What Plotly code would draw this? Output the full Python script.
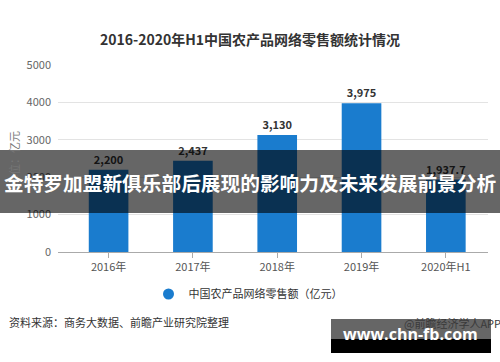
import plotly.graph_objects as go

categories = ["2016年", "2017年", "2018年", "2019年", "2020年H1"]
values = [2200, 2437, 3130, 3975, 1937.7]
value_labels = [f"{v:,}" for v in values]
y_ticks = [0, 1000, 2000, 3000, 4000, 5000]

title_text = "2016-2020年H1中国农产品网络零售额统计情况"
legend_name = "中国农产品网络零售额（亿元）"
y_title = "单位：亿元"
source_text = "资料来源：商务大数据、前瞻产业研究院整理"
brand_text = "@前瞻经济学人APP"
banner_text = "金特罗加盟新俱乐部后展现的影响力及未来发展前景分析"
site_text = "www.chn-fb.com"

FONT = "Noto Sans CJK SC, Microsoft YaHei, sans-serif"
BLUE = "#1a7cce"

W, H = 500, 362
L, R, T, B = 58, 12, 65, 110
PW, PH = W - L - R, H - T - B


def px(x):
    return (x - L) / PW


def py(y):
    return (H - B - y) / PH


fig = go.Figure()
fig.add_trace(go.Bar(
    x=list(range(len(categories))), y=values,
    marker=dict(color=BLUE, line=dict(width=0)),
    width=0.47,
    text=value_labels, textposition="outside", cliponaxis=False,
    textfont=dict(family=FONT, size=11, color="#333333", weight="bold"),
    showlegend=False, hoverinfo="skip",
))
fig.add_trace(go.Scatter(
    x=[None], y=[None], mode="markers", name=legend_name,
    marker=dict(symbol="circle", size=11, color=BLUE),
))

fig.update_layout(
    width=W, height=H,
    margin=dict(l=L, r=R, t=T, b=B),
    paper_bgcolor="white", plot_bgcolor="white",
    font=dict(family=FONT, color="#555555", size=11),
    title=dict(text=title_text, x=px(250), xref="paper", xanchor="center",
               y=1 - 40 / H, yanchor="middle",
               font=dict(family=FONT, size=14, color="#333333", weight="bold")),
    xaxis=dict(
        tickmode="array", tickvals=list(range(len(categories))), ticktext=categories,
        range=[-0.6, 4.5], showgrid=False, showline=True, linecolor="#aaaaaa", linewidth=1,
        ticks="outside", ticklen=5, tickcolor="#aaaaaa",
        tickfont=dict(family=FONT, size=11, color="#555555"), zeroline=False,
    ),
    yaxis=dict(
        range=[0, 5000], tickvals=y_ticks, ticktext=[str(t) for t in y_ticks],
        showgrid=True, gridcolor="#e3e3e3", gridwidth=1, zeroline=False, showline=False,
        tickfont=dict(family=FONT, size=11, color="#666666"), ticklabelstandoff=6,
        title=dict(text=y_title, standoff=4, font=dict(family=FONT, size=11, color="#777777")),
    ),
    legend=dict(orientation="h", x=px(248), xanchor="center", y=py(294), yanchor="middle",
                font=dict(family=FONT, size=11, color="#333333"), itemwidth=30,
                bgcolor="rgba(0,0,0,0)"),
    bargap=0.5,
)

shapes = [
    # banner overlay
    dict(type="rect", xref="paper", yref="paper", x0=px(0), x1=px(W), y0=py(213), y1=py(150),
         fillcolor="rgba(0,0,0,0.6)", line=dict(width=0), layer="above"),
    # site watermark box
    dict(type="rect", xref="paper", yref="paper", x0=px(331), x1=px(491), y0=py(339), y1=py(319),
         fillcolor="rgba(0,0,0,0.6)", line=dict(width=0), layer="above"),
    dict(type="rect", xref="paper", yref="paper", x0=px(331), x1=px(491), y0=py(353), y1=py(339),
         fillcolor="#000000", line=dict(width=0), layer="above"),
]
fig.update_layout(shapes=shapes)

annotations = [
    dict(text=source_text, xref="paper", yref="paper", x=px(7), y=py(322), xanchor="left",
         yanchor="middle", showarrow=False, font=dict(family=FONT, size=11, color="#333333")),
    dict(text=brand_text, xref="paper", yref="paper", x=px(503), y=py(323), xanchor="right",
         yanchor="middle", showarrow=False, font=dict(family=FONT, size=11, color="#3a3a3a")),
    dict(text=banner_text, xref="paper", yref="paper", x=px(250), y=py(182), xanchor="center",
         yanchor="middle", showarrow=False,
         font=dict(family=FONT, size=19.7, color="#ffffff", weight="bold")),
    dict(text=site_text, xref="paper", yref="paper", x=px(410), y=py(334), xanchor="center",
         yanchor="middle", showarrow=False,
         font=dict(family="Open Sans, DejaVu Sans, sans-serif", size=16, color="#ffffff", weight="bold")),
]
fig.update_layout(annotations=annotations)

fig.write_html("out.html")
